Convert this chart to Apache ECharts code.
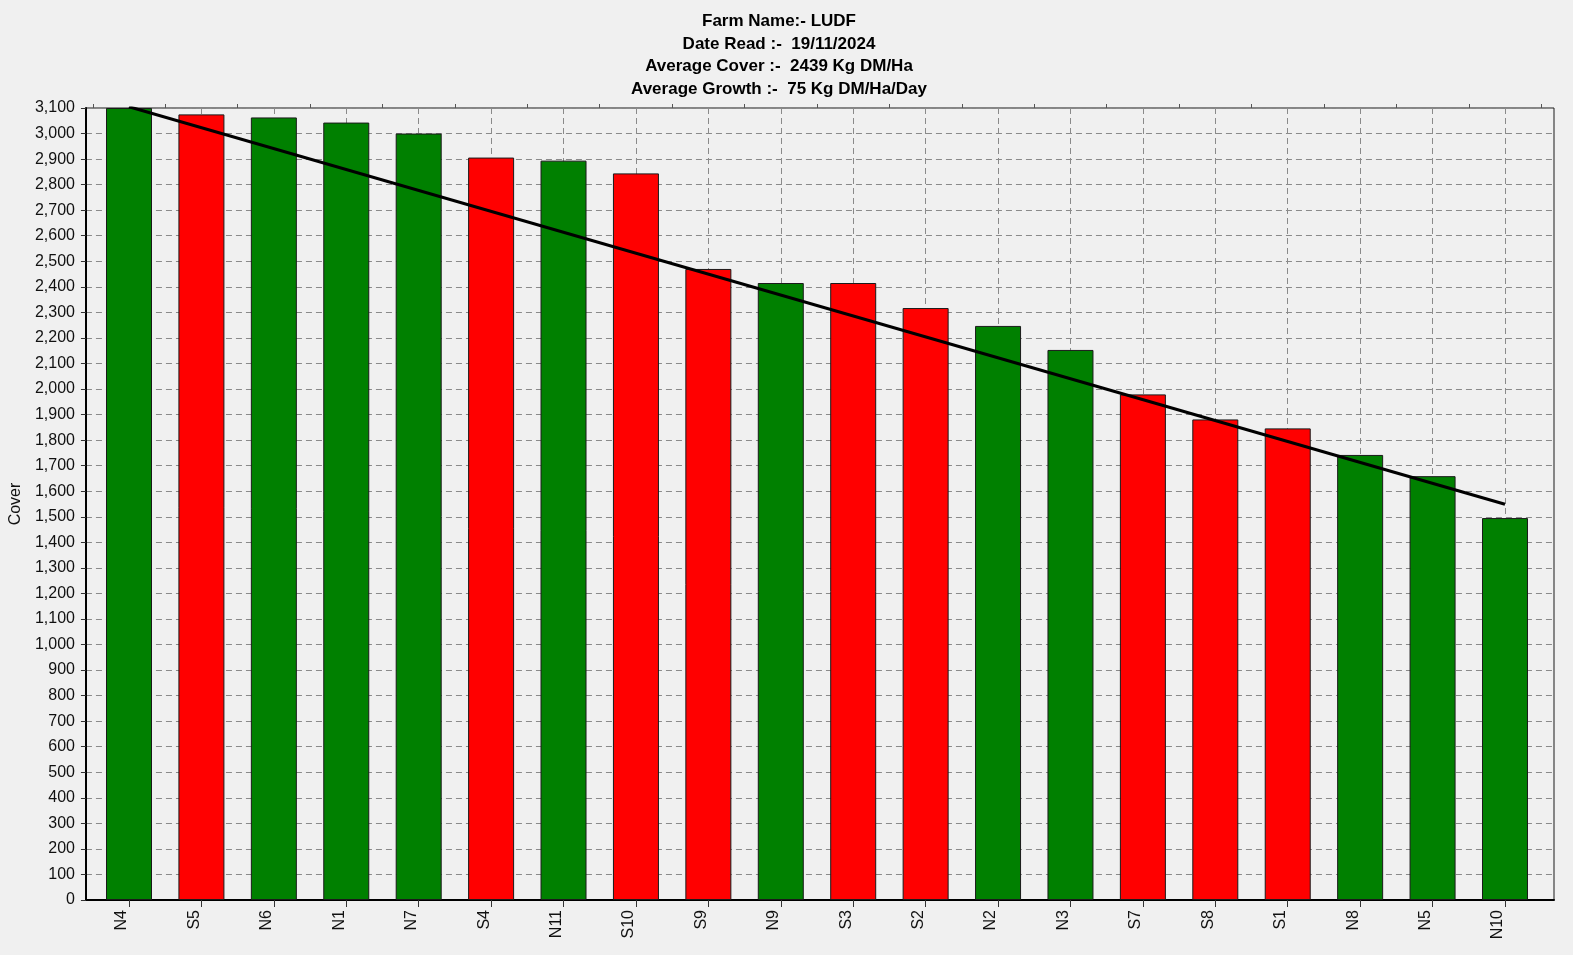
<!DOCTYPE html>
<html>
<head>
<meta charset="utf-8">
<script src="https://cdn.jsdelivr.net/npm/echarts@6/dist/echarts.min.js"></script>
<style>
html,body{margin:0;padding:0;background:#f0f0f0;}
#chart{width:1573px;height:955px;}
</style>
</head>
<body>
<div id="chart"></div>
<script>
const titleLines = [
  'Farm Name:- LUDF',
  'Date Read :-  19/11/2024',
  'Average Cover :-  2439 Kg DM/Ha',
  'Average Growth :-  75 Kg DM/Ha/Day'
];
const paddocks = ['N4','S5','N6','N1','N7','S4','N11','S10','S9','N9','S3','S2','N2','N3','S7','S8','S1','N8','N5','N10'];
const cover = [3100,3075,3063,3043,3000,2906,2894,2844,2470,2415,2415,2317,2247,2153,1979,1881,1846,1742,1659,1495];
const trendStart = 3105;
const trendEnd = 1549;
const yMin = 0, yMax = 3100, yStep = 100;

const FONT = "'Liberation Sans', Arial, sans-serif";
const GREEN = '#008000', RED = '#ff0000';

const barData = paddocks.map((p, i) => ({
  value: cover[i],
  itemStyle: { color: p.charAt(0) === 'N' ? GREEN : RED }
}));
const trendData = paddocks.map((p, i) => i === 0 ? trendStart : (i === paddocks.length - 1 ? trendEnd : null));

const fmt = v => String(v).replace(/\B(?=(\d{3})+(?!\d))/g, ',');
const dash = { color: '#8a8a8a', type: [6, 4], width: 1 };

const chart = echarts.init(document.getElementById('chart'));
chart.setOption({
  backgroundColor: '#f0f0f0',
  animation: false,
  title: {
    text: titleLines.join('\n'),
    left: 779, top: 10.5, textAlign: 'center', padding: 0,
    textStyle: { fontFamily: FONT, fontSize: 17, fontWeight: 'bold', color: '#000', lineHeight: 22.5 }
  },
  grid: [
    { left: 81, right: 19, top: 108, bottom: 55, show: true, borderColor: '#1a1a1a', borderWidth: 1, backgroundColor: 'transparent' },
    { left: 92.8, right: 31.8, top: 108, bottom: 55 },
    { left: 129, right: 68, top: 108, bottom: 55 }
  ],
  xAxis: [
    { gridIndex: 0, type: 'value', min: 0, max: 1, axisLine: { show: true, onZero: false, lineStyle: { color: '#000', width: 2 } },
      axisTick: { show: false }, axisLabel: { show: false }, splitLine: { show: false } },
    { gridIndex: 1, type: 'category', data: paddocks, boundaryGap: true,
      axisLine: { show: false },
      axisTick: { show: true, alignWithLabel: true, length: 7, lineStyle: { color: '#333', width: 1 } },
      axisLabel: { rotate: 90, margin: 10, fontFamily: FONT, fontSize: 16, color: '#111', verticalAlign: 'bottom', lineHeight: 14 },
      splitLine: { show: false } },
    { gridIndex: 1, type: 'category', data: paddocks, boundaryGap: true,
      axisLine: { show: false },
      axisTick: { show: true, alignWithLabel: false, length: 4, lineStyle: { color: '#555', width: 1 } },
      axisLabel: { show: false }, splitLine: { show: false } },
    { gridIndex: 2, type: 'category', data: paddocks, boundaryGap: false,
      axisLine: { show: false }, axisTick: { show: false }, axisLabel: { show: false },
      splitLine: { show: true, interval: 0, lineStyle: dash } }
  ],
  yAxis: [
    { gridIndex: 0, type: 'value', min: yMin, max: yMax, interval: yStep,
      name: 'Cover', nameLocation: 'middle', nameRotate: 90, nameGap: 56,
      nameTextStyle: { fontFamily: FONT, fontSize: 16, color: '#111' },
      axisLine: { show: true, lineStyle: { color: '#000', width: 2 } },
      axisTick: { show: true, length: 5, lineStyle: { color: '#333' } },
      axisLabel: { fontFamily: FONT, fontSize: 16, color: '#111', margin: 11, formatter: fmt },
      splitLine: { show: true, lineStyle: dash } },
    { gridIndex: 1, type: 'value', min: yMin, max: yMax, interval: yStep, show: false, splitLine: { show: false } },
    { gridIndex: 2, type: 'value', min: yMin, max: yMax, interval: yStep, show: false, splitLine: { show: false } }
  ],
  series: [
    { type: 'bar', xAxisIndex: 1, yAxisIndex: 1, data: barData, barWidth: 46,
      itemStyle: { borderColor: '#1a1a1a', borderWidth: 1 }, z: 3 },
    { type: 'line', xAxisIndex: 1, yAxisIndex: 1, data: trendData, connectNulls: true,
      symbol: 'none', lineStyle: { color: '#000', width: 3 }, z: 5 }
  ]
});
</script>
</body>
</html>
